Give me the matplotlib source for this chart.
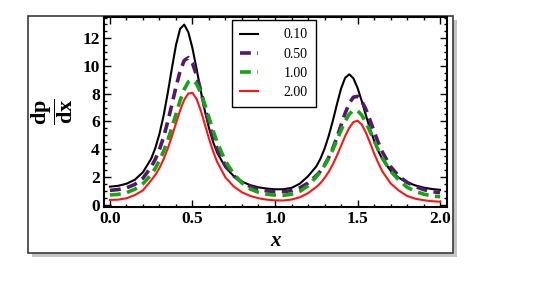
import matplotlib
matplotlib.use("Agg")
import matplotlib.pyplot as plt
from matplotlib.patches import Rectangle
from matplotlib.ticker import MultipleLocator

# x grid
x = [0.0, 0.05, 0.1, 0.15, 0.2, 0.25, 0.275, 0.3, 0.325, 0.35, 0.375, 0.4, 0.425, 0.45, 0.475,
     0.5, 0.525, 0.55, 0.575, 0.6, 0.625, 0.65, 0.7, 0.75, 0.8, 0.85, 0.9, 0.95, 1.0,
     1.05, 1.1, 1.15, 1.2, 1.25, 1.275, 1.3, 1.325, 1.35, 1.375, 1.4, 1.425, 1.45, 1.475,
     1.5, 1.525, 1.55, 1.575, 1.6, 1.625, 1.65, 1.7, 1.75, 1.8, 1.85, 1.9, 1.95, 2.0]

y_010 = [1.29, 1.35, 1.5, 1.78, 2.33, 3.31, 4.08, 5.10, 6.41, 8.03, 9.81, 11.51, 12.68, 12.99, 12.44,
         11.28, 9.79, 8.21, 6.76, 5.52, 4.52, 3.73, 2.68, 2.05, 1.65, 1.40, 1.24, 1.15, 1.1,
         1.1, 1.2, 1.5, 2.04, 2.75, 3.30, 4.02, 4.94, 6.03, 7.23, 8.36, 9.15, 9.40, 9.11,
         8.42, 7.49, 6.47, 5.48, 4.62, 3.87, 3.28, 2.44, 1.93, 1.60, 1.38, 1.22, 1.12, 1.06]

y_050 = [1.02, 1.08, 1.2, 1.45, 1.9, 2.72, 3.27, 3.98, 4.87, 5.97, 7.20, 8.48, 9.63, 10.40, 10.60,
         10.20, 9.33, 8.22, 7.01, 5.86, 4.85, 4.01, 2.79, 2.07, 1.60, 1.30, 1.10, 0.98, 0.93,
         0.93, 1.0, 1.2, 1.55, 2.08, 2.41, 2.85, 3.38, 4.05, 4.84, 5.72, 6.59, 7.32, 7.75,
         7.81, 7.48, 6.89, 6.11, 5.29, 4.49, 3.80, 2.74, 2.05, 1.60, 1.30, 1.08, 0.93, 0.86]

y_100 = [0.69, 0.73, 0.85, 1.1, 1.5, 2.15, 2.62, 3.18, 3.84, 4.63, 5.54, 6.52, 7.50, 8.31, 8.86,
         9.0, 8.71, 8.08, 7.22, 6.26, 5.33, 4.47, 3.12, 2.21, 1.55, 1.12, 0.88, 0.74, 0.68,
         0.66, 0.74, 0.95, 1.35, 2.0, 2.37, 2.81, 3.34, 3.96, 4.65, 5.36, 6.01, 6.53, 6.80,
         6.77, 6.46, 5.94, 5.30, 4.62, 3.95, 3.35, 2.41, 1.77, 1.25, 0.95, 0.75, 0.62, 0.56]

y_200 = [0.33, 0.35, 0.45, 0.68, 1.02, 1.75, 2.14, 2.64, 3.27, 4.03, 4.91, 5.86, 6.79, 7.56, 8.02,
         8.06, 7.62, 6.79, 5.79, 4.76, 3.84, 3.06, 1.95, 1.30, 0.88, 0.62, 0.45, 0.35, 0.30,
         0.29, 0.36, 0.52, 0.82, 1.26, 1.54, 1.91, 2.35, 2.89, 3.53, 4.23, 4.94, 5.54, 5.95,
         6.05, 5.78, 5.21, 4.48, 3.71, 3.01, 2.40, 1.53, 1.01, 0.62, 0.42, 0.31, 0.24, 0.20]

labels = ["0.10", "0.50", "1.00", "2.00"]

plt.rcParams["font.family"] = ["Liberation Serif", "DejaVu Serif"]
plt.rcParams["mathtext.fontset"] = "custom"
plt.rcParams["mathtext.rm"] = "Liberation Serif:bold"
plt.rcParams["mathtext.it"] = "Liberation Serif:bold"

W, H = 535, 282
fig = plt.figure(figsize=(W / 100, H / 100), dpi=100)

# framed panel with a soft shadow
shadow = Rectangle((32 / W, 1 - 257 / H), 425 / W, 237 / H, transform=fig.transFigure,
                   facecolor="#c4c4c4", edgecolor="none", zorder=-2)
frame = Rectangle((28 / W, 1 - 253 / H), 425 / W, 237 / H, transform=fig.transFigure,
                  facecolor="white", edgecolor="#3a3a3a", lw=1.2, zorder=-1)
fig.patches.extend([shadow, frame])

ax = fig.add_axes([104 / W, 1 - 207 / H, 343 / W, 190 / H])
ax.set_zorder(1)
ax.patch.set_alpha(0)

ax.plot(x, y_010, color="black", lw=1.5, label=labels[0])
ax.plot(x, y_050, color="#521a68", lw=2.6, dashes=(3.0, 1.8), label=labels[1])
ax.plot(x, y_100, color="#18a418", lw=2.6, dashes=(3.0, 1.8), label=labels[2])
ax.plot(x, y_200, color="#ff1414", lw=1.5, label=labels[3])

ax.set_xlim(-0.036, 2.042)
ax.set_ylim(-0.18, 13.54)
ax.set_xticks([0.0, 0.5, 1.0, 1.5, 2.0])
ax.set_yticks([0, 2, 4, 6, 8, 10, 12])
ax.xaxis.set_minor_locator(MultipleLocator(0.1))
ax.yaxis.set_minor_locator(MultipleLocator(0.5))
ax.tick_params(which="both", direction="in", top=True, right=True, width=1)
ax.tick_params(which="major", length=5, labelsize=12.5, pad=3)
ax.tick_params(which="minor", length=2.5)
ax.set_xticklabels(["0.0", "0.5", "1.0", "1.5", "2.0"], fontweight="bold")
ax.set_yticklabels(["0", "2", "4", "6", "8", "10", "12"], fontweight="bold")
for s in ax.spines.values():
    s.set_linewidth(1.5)

ax.set_xlabel("x", fontsize=15, fontweight="bold", fontstyle="italic", labelpad=3)
ax.set_ylabel(r"$\dfrac{\mathrm{dp}}{\mathrm{dx}}$", fontsize=16, rotation=90, labelpad=5)

leg = ax.legend(loc="upper left", bbox_to_anchor=(0.373, 0.984), fontsize=10,
                frameon=True, fancybox=False, framealpha=1, edgecolor="black",
                borderpad=0.6, labelspacing=0.45, handlelength=1.3, handletextpad=1.8,
                borderaxespad=0)
leg.get_frame().set_linewidth(1.0)

fig.savefig("out.png", dpi=100)
